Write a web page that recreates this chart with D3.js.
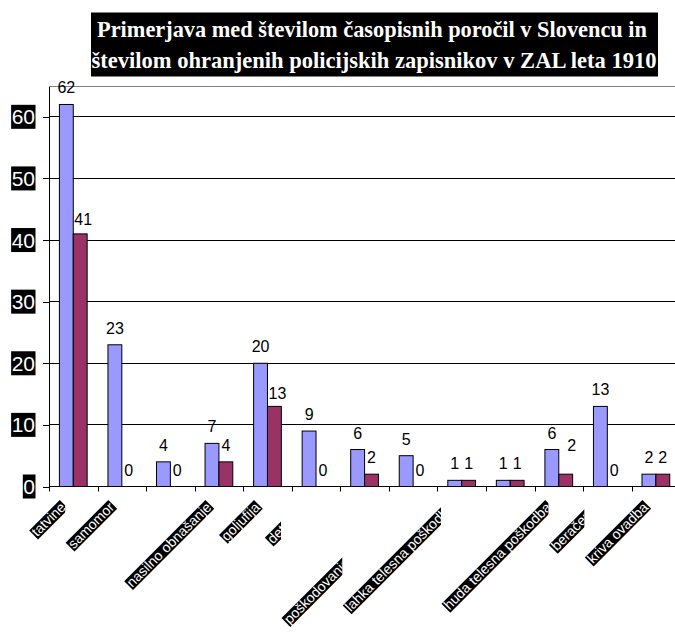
<!DOCTYPE html>
<html>
<head>
<meta charset="utf-8">
<script src="https://cdn.jsdelivr.net/npm/d3@7"></script>
<style>
  body { margin: 0; background: #fff; }
  text { font-family: "Liberation Sans", Arial, sans-serif; }
</style>
</head>
<body>
<svg id="chart"></svg>
<script>
// data
var titleLines = [
    "Primerjava med številom časopisnih poročil v Slovencu in",
    "številom ohranjenih policijskih zapisnikov v ZAL leta 1910"
];
// empty names = categories whose label the chart does not show
var categories = ["tatvine", "samomor", "", "nasilno obnašanje", "goljufija", "detomor", "",
    "poškodovanje tuje lastnine", "lahka telesna poškodba", "", "huda telesna poškodba",
    "beračenje", "kriva ovadba"];
var newspaperReports = [62, 23, 4, 7, 20, 9, 6, 5, 1, 1, 6, 13, 2];
var policeRecords    = [41, 0, 0, 4, 13, 0, 2, 0, 1, 1, 2, 0, 2];
var yTicks = [0, 10, 20, 30, 40, 50, 60];

var seriesColors = ["#9999ff", "#993366"];
// a few value labels sit a little off their bar in the original
var labelNudge = { "0-1": [3, 2], "4-1": [3, 4], "10-1": [6, -12] };

var width = 675, height = 639;
var left = 49, bandW = 48.55;

var svg = d3.select("#chart").attr("width", width).attr("height", height);
var defs = svg.append("defs");

var x = d3.scaleBand()
    .domain(d3.range(categories.length))
    .range([left, left + bandW * categories.length])
    .padding(0);
var xSub = d3.scaleBand()
    .domain([0, 1])
    .range([bandW * 0.75 / 3.5, bandW * 2.75 / 3.5])
    .padding(0);
var y = d3.scaleLinear().domain([0, 65]).range([486.5, 86]);

//////////////////////////////////////////////////////////////////////////////
// title

var titleG = svg.append("g");
titleG.append("rect")
    .attr("x", 91).attr("y", 12.5)
    .attr("width", 567).attr("height", 64)
    .attr("fill", "#000");
titleG.selectAll("text")
    .data(titleLines)
    .enter()
    .append("text")
    .attr("x", function(d, i) { return i == 0 ? 97 : 91.5; })
    .attr("y", function(d, i) { return 37 + i * 31; })
    .attr("textLength", function(d, i) { return i == 0 ? 550 : 565; })
    .attr("lengthAdjust", "spacingAndGlyphs")
    .style("fill", "#fff")
    .style("font-family", "'Liberation Serif', 'Times New Roman', serif")
    .style("font-weight", "bold")
    .style("font-size", "23px")
    .text(function(d) { return d; });

//////////////////////////////////////////////////////////////////////////////
// grid and axes

svg.append("g")
    .selectAll("line")
    .data(yTicks.filter(function(d) { return d > 0; }))
    .enter()
    .append("line")
    .attr("x1", left).attr("x2", width)
    .attr("y1", function(d) { return y(d); })
    .attr("y2", function(d) { return y(d); })
    .attr("stroke", "#000")
    .attr("shape-rendering", "crispEdges");

svg.append("line")
    .attr("x1", left).attr("x2", width)
    .attr("y1", y(65)).attr("y2", y(65))
    .attr("stroke", "#808080")
    .attr("shape-rendering", "crispEdges");

var yAxis = svg.append("g")
    .attr("transform", "translate(" + left + ",0)")
    .call(d3.axisLeft(y).tickValues(yTicks).tickSize(6).tickSizeOuter(0).tickFormat(""));
yAxis.select(".domain").attr("stroke", "#000").attr("shape-rendering", "crispEdges");
yAxis.selectAll(".tick line").attr("stroke", "#000").attr("shape-rendering", "crispEdges");

// tick numbers: white on black boxes
var yLabels = svg.append("g")
    .selectAll("g")
    .data(yTicks)
    .enter()
    .append("g")
    .attr("transform", function(d) { return "translate(35," + y(d) + ")"; });
yLabels.append("rect").attr("fill", "#000");
yLabels.append("text")
    .attr("x", 0).attr("y", 7.5)
    .attr("text-anchor", "end")
    .style("fill", "#fff")
    .style("font-size", "21px")
    .text(function(d) { return d; });
yLabels.each(function() {
    var g = d3.select(this);
    var w = g.select("text").node().getComputedTextLength();
    g.select("rect")
        .attr("x", -w - 0.5).attr("y", -12)
        .attr("width", w + 1).attr("height", 24);
});

var xAxisG = svg.append("g");
xAxisG.append("line")
    .attr("x1", left).attr("x2", width)
    .attr("y1", y(0)).attr("y2", y(0))
    .attr("stroke", "#000")
    .attr("shape-rendering", "crispEdges");
xAxisG.selectAll(".xtick")
    .data(d3.range(categories.length + 1))
    .enter()
    .append("line")
    .attr("class", "xtick")
    .attr("x1", function(i) { return Math.round(left + i * x.step()) + 0.5; })
    .attr("x2", function(i) { return Math.round(left + i * x.step()) + 0.5; })
    .attr("y1", y(0)).attr("y2", y(0) + 5)
    .attr("stroke", "#000");

//////////////////////////////////////////////////////////////////////////////
// bars and value labels

var rows = categories.map(function(c, i) {
    return { i: i, values: [newspaperReports[i], policeRecords[i]] };
});

var groups = svg.append("g")
    .selectAll("g")
    .data(rows)
    .enter()
    .append("g")
    .attr("transform", function(d) { return "translate(" + x(d.i) + ",0)"; });

groups.selectAll("rect")
    .data(function(d) { return d.values.map(function(v, s) { return { i: d.i, s: s, v: v }; }); })
    .enter()
    .append("rect")
    .attr("x", function(d) { return xSub(d.s); })
    .attr("y", function(d) { return y(d.v); })
    .attr("width", xSub.bandwidth())
    .attr("height", function(d) { return y(0) - y(d.v); })
    .attr("fill", function(d) { return seriesColors[d.s]; })
    .attr("stroke", function(d) { return d.v > 0 ? "#000" : "none"; })
    .attr("stroke-width", 1);

groups.selectAll("text")
    .data(function(d) { return d.values.map(function(v, s) { return { i: d.i, s: s, v: v }; }); })
    .enter()
    .append("text")
    .attr("x", function(d) {
        var n = labelNudge[d.i + "-" + d.s];
        return xSub(d.s) + xSub.bandwidth() / 2 + (n ? n[0] : 0);
    })
    .attr("y", function(d) {
        var n = labelNudge[d.i + "-" + d.s];
        return y(d.v) - 11 + (n ? n[1] : 0);
    })
    .attr("text-anchor", "middle")
    .style("fill", "#000")
    .style("font-size", "16px")
    .text(function(d) { return d.v; });

//////////////////////////////////////////////////////////////////////////////
// rotated category labels, white on black; a label is cut where the next one starts

var labelG = svg.append("g");
var shown = [];
categories.forEach(function(name, i) {
    if (!name) return;
    var ax = x(i) + x.bandwidth() / 2 - 13.5, ay = 500;
    var outer = labelG.append("g");
    var g = outer.append("g")
        .attr("transform", "translate(" + ax + "," + ay + ") rotate(-45)");
    var box = g.append("rect");
    var t = g.append("text")
        .attr("x", -1).attr("y", 10.5)
        .attr("text-anchor", "end")
        .style("fill", "#fff")
        .style("font-size", "14px")
        .text(name);
    var w = t.node().getComputedTextLength() + 2;
    box.attr("x", -w).attr("y", 0)
        .attr("width", w).attr("height", 12.5)
        .attr("fill", "#000");
    shown.push({ outer: outer, leftX: ax - w / Math.SQRT2 });
});

shown.forEach(function(l, k) {
    var next = shown[k + 1];
    if (!next) return;
    var id = "labelclip" + k;
    defs.append("clipPath")
        .attr("id", id)
        .append("rect")
        .attr("x", 0).attr("y", 0)
        .attr("width", next.leftX - 0.5).attr("height", height);
    l.outer.attr("clip-path", "url(#" + id + ")");
});
</script>
</body>
</html>
